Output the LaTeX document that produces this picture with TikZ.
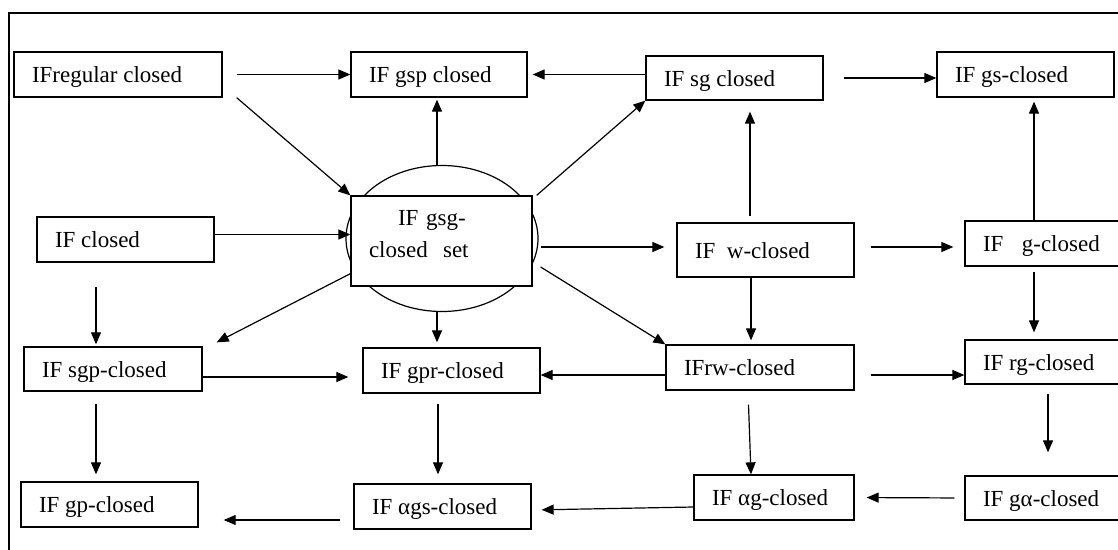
\documentclass[tikz,border=0pt]{standalone}
\usepackage{fontspec}
\setmainfont{Liberation Serif}
\usetikzlibrary{arrows.meta,shapes.geometric}
\newcommand{\lbl}[2]{\makebox[#1][l]{#2}}
\tikzset{
  box/.style={draw, line width=1.3pt, fill=white, inner xsep=18pt, inner ysep=0pt,
    minimum height=45pt, text height=16pt, text depth=0pt,
    font=\fontsize{23}{32}\selectfont},
  arr/.style={-{Triangle[length=12pt,width=10pt]}, line width=1.2pt},
}
\begin{document}
\begin{tikzpicture}[x=1pt,y=-1pt]
  \clip (0,0) rectangle (1118,549);
  \draw[line width=1.4pt] (1130,13) -- (9,13) -- (9,560);
  % oval behind the central box
  \node[draw, ellipse, line width=1.2pt, minimum width=192pt, minimum height=146pt, inner sep=0pt] (oval) at (442,238.5) {};
  % boxes
  \node[box] (reg) at (118,74.5) {\lbl{172pt}{IFregular closed}};
  \node[box] (gsp) at (439,74.5) {\lbl{140pt}{IF gsp closed}};
  \node[box, minimum height=44pt] (sg) at (734.5,78) {\lbl{141pt}{IF sg closed}};
  \node[box] (gs) at (1025.5,74.5) {\lbl{141pt}{IF gs-closed}};
  \node[box] (cl) at (125.5,239.5) {\lbl{141pt}{IF closed}};
  \node[box, minimum height=90pt, text depth=48pt, text width=145pt, align=left] (gsg) at (441.5,241) {\hspace*{29pt}IF gsg-\\closed~~set};
  \node[box, minimum height=54pt] (w) at (765.5,250) {\lbl{141pt}{IF~~w-closed}};
  \node[box] (g) at (1048,243.5) {\lbl{130pt}{IF\hspace{0.8em}g-closed}};
  \node[box, minimum height=44pt] (sgp) at (113,369) {\lbl{142pt}{IF sgp-closed}};
  \node[box] (gpr) at (451.5,370.5) {\lbl{141pt}{IF gpr-closed}};
  \node[box] (rw) at (760,367.5) {\lbl{152pt}{IFrw-closed}};
  \node[box, minimum height=44pt] (rg) at (1048,362) {\lbl{130pt}{IF rg-closed}};
  \node[box] (gp) at (109.5,504.5) {\lbl{141pt}{IF gp-closed}};
  \node[box] (ags) at (442.5,506.5) {\lbl{141pt}{IF αgs-closed}};
  \node[box] (ag) at (774,497.5) {\lbl{124pt}{IF αg-closed}};
  \node[box, minimum height=44pt] (ga) at (1048,498) {\lbl{130pt}{IF gα-closed}};
  % top row
  \draw[arr, shorten <=14pt] (reg) -- (gsp);
  \draw[arr] ([xshift=14pt]reg.south east) -- (gsg.north west);
  \draw[arr, shorten >=5pt] (sg.west |- gsp.east) -- (gsp.east);
  \draw[arr, shorten <=20pt] (sg.east) -- (sg.east -| gs.west);
  \coordinate (ovn) at ([xshift=-5pt]oval.north);
  \draw[arr, shorten >=2pt] (ovn) -- (ovn |- gsp.south);
  \draw[arr] ([xshift=4pt]gsg.north east) -- (sg.south west);
  % middle row
  \coordinate (clr) at ([yshift=5pt]cl.east);
  \draw[arr] (clr) -- (clr -| gsg.west);
  \coordinate (gsgr) at ([xshift=8pt,yshift=-6pt]gsg.east);
  \draw[arr, shorten >=12pt] (gsgr) -- (gsgr -| w.west);
  \coordinate (wr) at ([yshift=3pt]w.east);
  \draw[arr, shorten <=16pt, shorten >=11pt] (wr) -- (wr -| g.west);
  \coordinate (wt) at ([xshift=-15.5pt]w.north);
  \draw[arr, shorten <=6pt, shorten >=11pt] (wt) -- (wt |- sg.south);
  \coordinate (gt) at ([xshift=-14pt]g.north);
  \draw[arr, shorten >=4pt] (gt) -- (gt |- gs.south);
  \coordinate (gb) at ([xshift=-14pt]g.south);
  \draw[arr, shorten <=5pt, shorten >=7pt] (gb) -- (gb |- rg.north);
  \draw[arr] ([xshift=8pt,yshift=-26pt]gsg.east) -- (rw.north west);
  \draw[arr] ([yshift=13pt]gsg.south west) -- ([xshift=14pt,yshift=4pt]sgp.north east);
  \coordinate (clb) at ([xshift=-29.5pt]cl.south);
  \draw[arr, shorten <=24pt, shorten >=2pt] (clb) -- (clb |- sgp.north);
  \coordinate (ovs) at ([xshift=-5pt]oval.south);
  \draw[arr, shorten >=5pt] (ovs) -- (ovs |- gpr.north);
  \coordinate (wb) at ([xshift=-14.5pt]w.south);
  \draw[arr, shorten >=4pt] (wb) -- (wb |- rw.north);
  % lower rows
  \coordinate (sgpr) at ([yshift=-8pt]sgp.east);
  \draw[arr, shorten >=14pt] (sgpr) -- (sgpr -| gpr.west);
  \coordinate (rwl) at ([yshift=-7.5pt]rw.west);
  \draw[arr] (rwl) -- (rwl -| gpr.east);
  \coordinate (rwr) at ([yshift=-7.5pt]rw.east);
  \draw[arr, shorten <=16pt] (rwr) -- (rwr -| rg.west);
  \coordinate (sgpb) at ([xshift=-17pt]sgp.south);
  \draw[arr, shorten <=12pt, shorten >=7pt] (sgpb) -- (sgpb |- gp.north);
  \coordinate (gprb) at ([xshift=-13.5pt]gpr.south);
  \draw[arr, shorten <=10pt, shorten >=9pt] (gprb) -- (gprb |- ags.north);
  \draw[arr, shorten <=14pt] ([xshift=-12pt]rw.south) -- ([xshift=-23pt]ag.north);
  \draw[arr, shorten <=9pt, shorten >=23pt] (rg.south) -- (ga.north);
  \draw[arr, shorten <=10pt, shorten >=12pt] (ga.west) -- (ag.east);
  \draw[arr, shorten >=10pt] ([yshift=-9.5pt]ag.west) -- ([yshift=-3.5pt]ags.east);
  \coordinate (agsl) at ([yshift=-13.5pt]ags.west);
  \draw[arr, shorten <=13pt, shorten >=25pt] (agsl) -- (agsl -| gp.east);
\end{tikzpicture}
\end{document}
